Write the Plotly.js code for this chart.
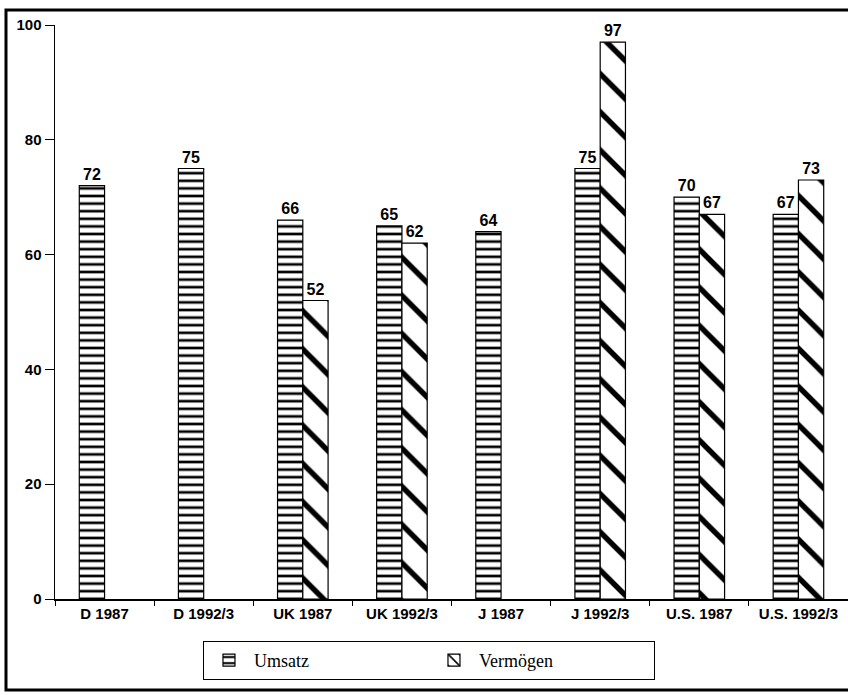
<!DOCTYPE html>
<html>
<head>
<meta charset="utf-8">
<script src="https://cdn.plot.ly/plotly-3.0.1.min.js"></script>
<style>html,body{margin:0;padding:0;background:#fff;}#chart{width:848px;height:695px;}</style>
</head>
<body>
<div id="chart"></div>
<script>
const categories = ["D 1987", "D 1992/3", "UK 1987", "UK 1992/3", "J 1987", "J 1992/3", "U.S. 1987", "U.S. 1992/3"];
const umsatz = [72, 75, 66, 65, 64, 75, 70, 67];
const vermoegen = [null, null, 52, 62, null, 97, 67, 73];
const yTicks = [0, 20, 40, 60, 80, 100];

const labelFont = {family: "Liberation Sans, Arial, sans-serif", size: 16, color: "#000", weight: "bold"};
const tickFont = {family: "Liberation Sans, Arial, sans-serif", size: 15, color: "#000", weight: "bold"};

const traces = [
  {
    type: "bar", name: "Umsatz", x: categories, y: umsatz,
    text: umsatz.map(v => v == null ? "" : String(v)),
    textposition: "outside", textfont: labelFont, cliponaxis: false,
    marker: {color: "#fff", line: {color: "#000", width: 1.2},
      pattern: {shape: "-", size: 7.6, solidity: 0.35, fgcolor: "#000", fgopacity: 1, bgcolor: "#fff", fillmode: "overlay"}}
  },
  {
    type: "bar", name: "Vermögen", x: categories, y: vermoegen,
    text: vermoegen.map(v => v == null ? "" : String(v)),
    textposition: "outside", textfont: labelFont, cliponaxis: false,
    marker: {color: "#fff", line: {color: "#000", width: 1.2},
      pattern: {shape: "\\", size: 27, solidity: 0.2, fgcolor: "#000", fgopacity: 1, bgcolor: "#fff", fillmode: "overlay"}}
  }
];

const layout = {
  width: 848, height: 695,
  margin: {l: 55, r: 0, t: 25, b: 96},
  paper_bgcolor: "#fff", plot_bgcolor: "#fff",
  barmode: "group", bargap: 0.49, bargroupgap: 0,
  showlegend: true,
  legend: {
    orientation: "h", x: 0.4716, xanchor: "center", y: -0.073, yanchor: "top",
    bordercolor: "#000", borderwidth: 1, bgcolor: "#fff",
    font: {family: "Liberation Serif, Times New Roman, serif", size: 18, color: "#000"},
    entrywidth: 170, itemwidth: 40, traceorder: "normal"
  },
  xaxis: {
    type: "category", showline: true, linecolor: "#000", linewidth: 1.5,
    ticks: "outside", tickson: "boundaries", ticklen: 5, tickcolor: "#000",
    showgrid: false, zeroline: false, tickfont: tickFont
  },
  yaxis: {
    range: [0, 100], tickvals: yTicks, showline: true, linecolor: "#000", linewidth: 1.5,
    ticks: "outside", ticklen: 9, tickcolor: "#000", showgrid: false, zeroline: false,
    tickfont: tickFont
  },
  shapes: [
    {type: "rect", xref: "paper", yref: "paper", x0: -0.0618, x1: 1.004, y0: -0.1585, y1: 1.026,
     line: {color: "#000", width: 3}, fillcolor: "rgba(0,0,0,0)", layer: "above"}
  ]
};

Plotly.newPlot("chart", traces, layout, {displayModeBar: false, staticPlot: true});
</script>
</body>
</html>
